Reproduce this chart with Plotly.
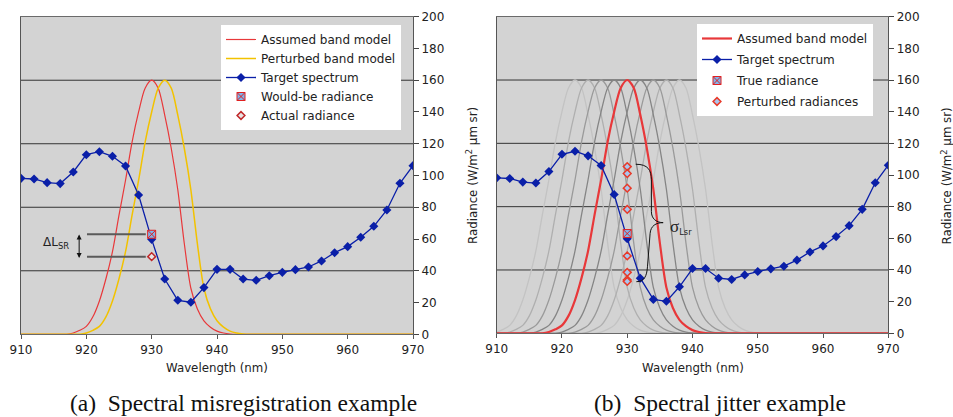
import plotly.graph_objects as go

# ---------------- data ----------------
wavelength = [910, 912, 914, 916, 918, 920, 922, 924, 926, 928, 930, 932, 934, 936, 938, 940,
              942, 944, 946, 948, 950, 952, 954, 956, 958, 960, 962, 964, 966, 968, 970]
target_spectrum = [98.2, 97.8, 95.5, 94.9, 102.2, 113.1, 115.0, 112.1, 106.0, 87.7, 59.8, 34.8,
                   21.4, 20.2, 29.4, 40.9, 40.9, 34.8, 34.0, 36.9, 39.0, 40.7, 42.4, 46.2, 51.4,
                   55.2, 61.1, 68.0, 78.3, 95.1, 106.2]

# band model shape: offset from band centre (nm) -> response
band_offsets = [-30, -14, -13, -12, -11, -10, -9, -8, -7, -6, -5, -4, -3, -2, -1, 0,
                1, 2, 3, 4, 5, 6, 7, 8, 9, 10, 11, 12, 13, 14, 50]
band_values = [0, 0, 0, 0.8, 2.5, 5, 11, 21, 35, 52, 75, 97, 121, 140, 155, 160,
               155, 138, 117, 91, 57, 29, 16, 8.5, 4.5, 2, 0.8, 0.2, 0, 0, 0]

band_centre = 930
perturbed_shift = 2
jitter_shifts = [-8, -6, -4, -2, 2, 4, 6, 8]
jitter_colors = {2: "#858585", 4: "#9a9a9a", 6: "#afafaf", 8: "#c3c3c3"}

sample_wavelength = 930
would_be_radiance = 63.0
actual_radiance = 48.9
true_radiance = 63.0
perturbed_radiances = [105.3, 100.9, 91.7, 78.3, 48.9, 38.5, 33.7, 32.8]

# ---------------- styles ----------------
RED = "#e8383a"
YELLOW = "#f2c200"
BLUE = "#0a1fa8"
BG = "#d3d3d3"
FONT = "DejaVu Sans"
W, H = 953, 417

fig = go.Figure()

# ---- left: spectral misregistration ----
fig.add_trace(go.Scatter(
    x=[band_centre + o for o in band_offsets], y=band_values, mode="lines",
    line=dict(color=RED, width=1.2, shape="spline", smoothing=0.8),
    name="Assumed band model", xaxis="x", yaxis="y", legend="legend"))
fig.add_trace(go.Scatter(
    x=[band_centre + perturbed_shift + o for o in band_offsets], y=band_values, mode="lines",
    line=dict(color=YELLOW, width=1.5, shape="spline", smoothing=0.8),
    name="Perturbed band model", xaxis="x", yaxis="y", legend="legend"))
fig.add_trace(go.Scatter(
    x=wavelength, y=target_spectrum, mode="lines+markers",
    line=dict(color=BLUE, width=1.3),
    marker=dict(symbol="diamond", size=7, color=BLUE),
    name="Target spectrum", xaxis="x", yaxis="y", legend="legend"))
fig.add_trace(go.Scatter(
    x=[sample_wavelength], y=[would_be_radiance], mode="markers",
    marker=dict(symbol="square-x", size=8, color="#7fb4ec", line=dict(color="#e02020", width=1)),
    name="Would-be radiance", xaxis="x", yaxis="y", legend="legend"))
fig.add_trace(go.Scatter(
    x=[sample_wavelength], y=[actual_radiance], mode="markers",
    marker=dict(symbol="diamond", size=6, color="#e8e4e4", line=dict(color="#c0282a", width=1.5)),
    name="Actual radiance", xaxis="x", yaxis="y", legend="legend"))

# ---- right: spectral jitter ----
for s in sorted(jitter_shifts, key=lambda v: -abs(v)):
    fig.add_trace(go.Scatter(
        x=[band_centre + s + o for o in band_offsets], y=band_values, mode="lines",
        line=dict(color=jitter_colors[abs(s)], width=1.3, shape="spline", smoothing=0.8),
        showlegend=False, hoverinfo="skip", xaxis="x2", yaxis="y2"))
fig.add_trace(go.Scatter(
    x=[band_centre + o for o in band_offsets], y=band_values, mode="lines",
    line=dict(color=RED, width=2.2, shape="spline", smoothing=0.8),
    name="Assumed band model", xaxis="x2", yaxis="y2", legend="legend2", legendgroup="a"))
fig.add_trace(go.Scatter(
    x=wavelength, y=target_spectrum, mode="lines+markers",
    line=dict(color=BLUE, width=1.3),
    marker=dict(symbol="diamond", size=7, color=BLUE),
    name="Target spectrum", xaxis="x2", yaxis="y2", legend="legend2", legendgroup="b"))
fig.add_trace(go.Scatter(
    x=[sample_wavelength], y=[true_radiance], mode="markers",
    marker=dict(symbol="square-x", size=8, color="#7fb4ec", line=dict(color="#e02020", width=1)),
    name="True radiance", xaxis="x2", yaxis="y2", legend="legend2", legendgroup="c"))
fig.add_trace(go.Scatter(
    x=[sample_wavelength] * len(perturbed_radiances), y=perturbed_radiances, mode="markers",
    marker=dict(symbol="diamond", size=6, color="#a9c6ee", line=dict(color="#e83a2a", width=1.5)),
    name="Perturbed radiances", xaxis="x2", yaxis="y2", legend="legend2", legendgroup="d"))

# ---------------- axes ----------------
def px_x(p):
    return p / W

def px_y(p):
    return (H - p) / H

tickfont = dict(family=FONT, size=12, color="#222")

def xaxis(dom, anchor):
    return dict(domain=dom, range=[910, 970], dtick=10, tick0=910, ticks="outside", ticklen=4,
                tickcolor="#555", showline=True, linecolor="#6a6a6a", linewidth=1, mirror=True,
                showgrid=False, zeroline=False, anchor=anchor, tickfont=tickfont, automargin=False)

def yaxis(dom, anchor):
    return dict(domain=dom, range=[0, 200], dtick=20, side="right", ticks="outside", ticklen=5,
                tickcolor="#444", showline=True, linecolor="#555", linewidth=1, mirror=True,
                showgrid=False, zeroline=False, anchor=anchor, tickfont=tickfont, automargin=False)

fig.update_layout(
    width=W, height=H, margin=dict(l=0, r=0, t=0, b=0, autoexpand=False),
    paper_bgcolor="white", plot_bgcolor=BG,
    font=dict(family=FONT, size=12, color="#222"),
    xaxis=xaxis([px_x(21), px_x(413)], "y"),
    yaxis=yaxis([px_y(334.3), px_y(16.7)], "x"),
    xaxis2=xaxis([px_x(496.7), px_x(888.3)], "y2"),
    yaxis2=yaxis([px_y(333.3), px_y(16.7)], "x2"),
    legend=dict(x=px_x(401), xanchor="right", y=px_y(25), yanchor="top",
                bgcolor="white", borderwidth=0, font=dict(family=FONT, size=12, color="#222"),
                itemwidth=30, tracegroupgap=0),
    legend2=dict(x=px_x(873), xanchor="right", y=px_y(24), yanchor="top",
                 bgcolor="white", borderwidth=0, font=dict(family=FONT, size=12, color="#222"),
                 itemwidth=30, traceorder="grouped", tracegroupgap=2),
    showlegend=True,
)

# grid lines every 40
for xr, yr in (("x", "y"), ("x2", "y2")):
    for v in (40, 80, 120, 160):
        fig.add_shape(type="line", xref=f"{xr} domain", yref=yr, x0=0, x1=1, y0=v, y1=v,
                      line=dict(color="#333333", width=1), layer="below")

# ---- left annotations (delta L_SR) ----
for v in (would_be_radiance, actual_radiance):
    fig.add_shape(type="line", xref="x", yref="y", x0=920.1, x1=929.1, y0=v, y1=v,
                  line=dict(color="#5a5a5a", width=2))
fig.add_annotation(x=918.9, y=actual_radiance - 0.8, ax=918.9, ay=would_be_radiance + 0.8,
                   xref="x", yref="y", axref="x", ayref="y", text="", showarrow=True,
                   arrowhead=2, startarrowhead=2, arrowside="end+start", arrowsize=1,
                   arrowwidth=1, arrowcolor="#111")
fig.add_annotation(x=915.4, y=57.5, xref="x", yref="y", text="ΔL<sub>SR</sub>",
                   xanchor="center", yanchor="middle",
                   showarrow=False, font=dict(family=FONT, size=12, color="#222"))

# ---- right annotations (sigma brace) ----
fig.add_shape(type="path", xref="x2", yref="y2",
              path="M931.3,106.8 C933.2,106.8 933.7,103 933.7,97 L933.7,77 "
                   "C933.7,72.5 934.4,70 935.5,69.9 C934.4,69.9 933.6,68 933.5,63 "
                   "L933.1,42 C933,36 932.6,32.6 931.4,32.6",
              line=dict(color="#111", width=1))
fig.add_annotation(x=938.3, y=67.3, xref="x2", yref="y2",
                   xanchor="center", yanchor="middle",
                   text='<span style="font-family:Liberation Serif;font-size:17px">σ</span><sub>Lsr</sub>',
                   showarrow=False, font=dict(family=FONT, size=12, color="#222"))

# ---- axis titles and captions ----
for cx in (217, 692.5):
    fig.add_annotation(x=px_x(cx), y=px_y(368), xref="paper", yref="paper",
                       xanchor="center", yanchor="middle",
                       text="Wavelength (nm)", showarrow=False,
                       font=dict(family=FONT, size=11.8, color="#222"))
for cx in (472, 946.5):
    fig.add_annotation(x=px_x(cx), y=px_y(176), xref="paper", yref="paper",
                       xanchor="center", yanchor="middle",
                       text="Radiance (W/m<sup>2</sup> µm sr)", textangle=-90, showarrow=False,
                       font=dict(family=FONT, size=11.8, color="#222"))
fig.add_annotation(x=px_x(243), y=px_y(403), xref="paper", yref="paper",
                   xanchor="center", yanchor="middle",
                   text="(a)  Spectral misregistration example", showarrow=False,
                   font=dict(family="Liberation Serif", size=23.5, color="#111"))
fig.add_annotation(x=px_x(720), y=px_y(403), xref="paper", yref="paper",
                   xanchor="center", yanchor="middle",
                   text="(b)  Spectral jitter example", showarrow=False,
                   font=dict(family="Liberation Serif", size=23.5, color="#111"))

fig.write_html("out.html")
